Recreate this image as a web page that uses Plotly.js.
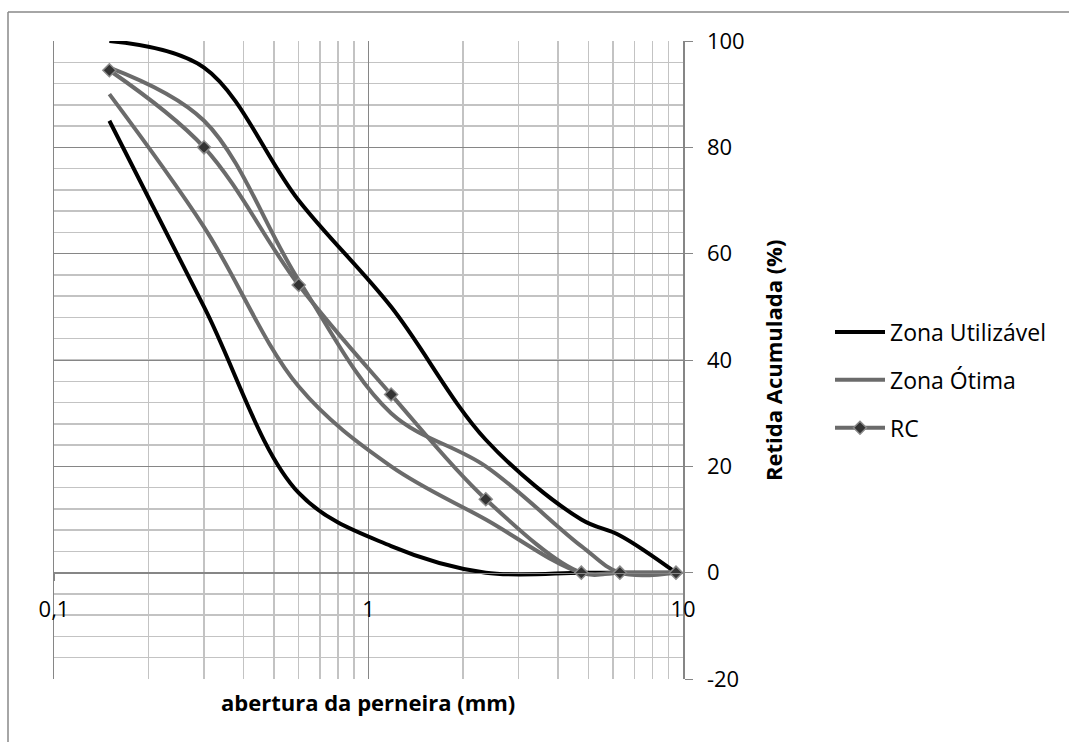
<!DOCTYPE html>
<html>
<head>
<meta charset="utf-8">
<script src="https://cdn.plot.ly/plotly-3.0.1.min.js"></script>
<style>
  html, body { margin: 0; padding: 0; background: #ffffff; }
  #chart { width: 1069px; height: 742px; }
</style>
</head>
<body>
<div id="chart"></div>
<script>
// Sieve openings (mm)
const sieves = [0.15, 0.3, 0.6, 1.18, 2.36, 4.75, 6.3, 9.5];
// Zona Utilizável limits (%)
const utilLower = [85, 50, 15, 5, 0, 0, 0, 0];
const utilUpper = [100, 95, 70, 50, 25, 10, 7, 0];
// Zona Ótima limits (%)
const otimaLower = [90, 65, 35, 20, 10, 0, 0, 0];
const otimaUpper = [95, 85, 55, 30, 20, 5, 0, 0];
// RC sample (%)
const rc = [94.5, 80, 54.1, 33.5, 13.8, 0, 0, 0];

const xTickVals = [0.1, 1, 10];
const xTickText = ['0,1', '1', '10'];
const yTickVals = [-20, 0, 20, 40, 60, 80, 100];
const yTickText = ['-20', '0', '20', '40', '60', '80', '100'];

const FONT = 'Open Sans, Noto Sans, sans-serif';
const GRAY = '#6b6b6b';

const lineShape = {shape: 'spline', smoothing: 1, width: 4};

const traces = [
  {x: sieves, y: utilLower, mode: 'lines', name: 'Zona Utilizável', legendgroup: 'g1',
   line: Object.assign({color: '#000000'}, lineShape)},
  {x: sieves, y: utilUpper, mode: 'lines', name: 'Zona Utilizável', legendgroup: 'g1', showlegend: false,
   line: Object.assign({color: '#000000'}, lineShape)},
  {x: sieves, y: otimaLower, mode: 'lines', name: 'Zona Ótima', legendgroup: 'g2',
   line: Object.assign({color: GRAY}, lineShape)},
  {x: sieves, y: otimaUpper, mode: 'lines', name: 'Zona Ótima', legendgroup: 'g2', showlegend: false,
   line: Object.assign({color: GRAY}, lineShape)},
  {x: sieves, y: rc, mode: 'lines+markers', name: 'RC', legendgroup: 'g3',
   line: Object.assign({color: GRAY}, lineShape),
   marker: {symbol: 'diamond', size: 10, color: '#333333', line: {color: '#8a8a8a', width: 1.5}}}
];

// pixel -> paper helpers (plot area: x 54..683, y 41..679)
const L = 54, R = 683, T = 41, B = 679;
const px = v => (v - L) / (R - L);
const py = v => (B - v) / (B - T);

const layout = {
  width: 1069, height: 742,
  margin: {l: L, r: 1069 - R, t: T, b: 742 - B, pad: 0},
  paper_bgcolor: '#ffffff', plot_bgcolor: '#ffffff',
  font: {family: FONT, size: 22, color: '#000000'},
  showlegend: true,
  legend: {
    x: px(830), xanchor: 'left', y: py(380), yanchor: 'middle',
    font: {family: FONT, size: 23, color: '#000000'},
    tracegroupgap: 15, itemwidth: 50, bgcolor: 'rgba(0,0,0,0)'
  },
  xaxis: {
    type: 'log', range: [-1, 1],
    anchor: 'free', position: 1 / 6,
    tickvals: xTickVals, ticktext: xTickText,
    ticks: 'outside', ticklen: 7, tickcolor: '#868686', tickwidth: 1,
    ticklabelstandoff: 9,
    showline: true, linecolor: '#868686', linewidth: 1.5,
    showgrid: true, gridcolor: '#868686', gridwidth: 1,
    minor: {dtick: 'D1', showgrid: true, gridcolor: '#c3c3c3', gridwidth: 1.5, ticks: ''},
    zeroline: false,
    tickfont: {family: FONT, size: 22, color: '#000000'}
  },
  yaxis: {
    side: 'right', range: [-20, 100],
    tickvals: yTickVals, ticktext: yTickText,
    ticks: 'outside', ticklen: 8, tickcolor: '#868686', tickwidth: 1,
    ticklabelstandoff: 10,
    showline: true, linecolor: '#868686', linewidth: 1.5, mirror: true,
    showgrid: true, gridcolor: '#868686', gridwidth: 1,
    minor: {dtick: 4, showgrid: true, gridcolor: '#c3c3c3', gridwidth: 1.5, ticks: ''},
    zeroline: false,
    tickfont: {family: FONT, size: 22, color: '#000000'}
  },
  annotations: [
    {text: '<b>Retida Acumulada (%)</b>', xref: 'paper', yref: 'paper',
     x: px(773), y: py(361), xanchor: 'center', yanchor: 'middle', textangle: -90,
     showarrow: false, font: {family: FONT, size: 22, color: '#000000'}},
    {text: '<b>abertura da perneira (mm)</b>', xref: 'paper', yref: 'paper',
     x: px(368), y: py(702), xanchor: 'center', yanchor: 'middle',
     showarrow: false, font: {family: FONT, size: 22, color: '#000000'}}
  ],
  shapes: [
    {type: 'line', xref: 'paper', yref: 'paper', x0: px(8), x1: px(8), y0: py(760), y1: py(12),
     line: {color: '#888888', width: 1.5}},
    {type: 'line', xref: 'paper', yref: 'paper', x0: px(8), x1: px(1080), y0: py(12), y1: py(12),
     line: {color: '#888888', width: 1.5}}
  ]
};

Plotly.newPlot('chart', traces, layout, {displayModeBar: false, staticPlot: true});
</script>
</body>
</html>
